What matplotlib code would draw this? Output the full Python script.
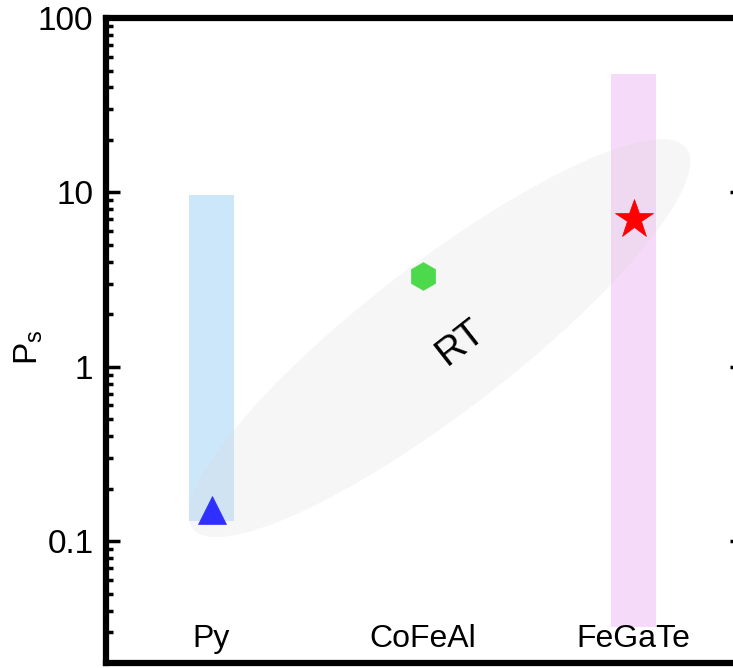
import numpy as np
import matplotlib
matplotlib.use("Agg")
import matplotlib.pyplot as plt
from matplotlib.patches import Ellipse
from matplotlib.transforms import ScaledTranslation

plt.rcParams['font.family'] = ['Liberation Sans', 'DejaVu Sans']
plt.rcParams['mathtext.fontset'] = 'custom'
plt.rcParams['mathtext.rm'] = 'Liberation Sans'

materials = ['Py', 'CoFeAl', 'FeGaTe']
ps_value = [0.15, 3.3, 7.0]
markers = ['^', 'h', '*']
marker_sizes = [19.5, 20, 29.5]
marker_colors = ['#2f2fff', '#4cd94c', '#ff0000']

# ranges shown as shaded bars (material index, low, high)
range_idx = [0, 2]
range_low = [0.13, 0.032]
range_high = [9.6, 48.0]
range_colors = ['#cde7fa', '#f6daf9']

# room-temperature region: centre in data units, size in inches
rt_center = (1.08, 1.46)
rt_size = (6.23, 1.48)
rt_angle = 37.6

fig = plt.figure(figsize=(7.33, 6.68), dpi=100)
ax = fig.add_axes([0.1446, 0.0075, 0.8700, 0.9655])
x = np.arange(len(materials))

ax.set_yscale('log')
ax.set_xlim(-0.5, 2.522)
ax.set_ylim(0.02, 100)

for i, lo, hi, c in zip(range_idx, range_low, range_high, range_colors):
    ax.bar(x[i], hi - lo, bottom=lo, width=0.213, color=c, zorder=1)

ell = Ellipse((0, 0), rt_size[0], rt_size[1], angle=rt_angle,
              facecolor='#d8d8d8', alpha=0.22, edgecolor='none', zorder=2,
              transform=fig.dpi_scale_trans + ScaledTranslation(*rt_center, ax.transData))
ax.add_patch(ell)

for xi, yi, m, ms, c in zip(x, ps_value, markers, marker_sizes, marker_colors):
    ax.plot(xi, yi, marker=m, ms=ms, color=c, mec=c, mew=0.5, linestyle='none', zorder=3)

ax.text(1.18, 1.38, 'RT', fontsize=28, rotation=38, ha='center', va='center', zorder=4)

for xi, name in zip(x, materials):
    ax.text(xi, 0.025, name, transform=ax.get_xaxis_transform(), ha='center',
            va='baseline', fontsize=23)

ax.set_xticks([])
ax.set_yticks([0.1, 1, 10, 100])
ax.set_yticklabels(['0.1', '1', '10', '100'])
ax.tick_params(axis='y', which='major', direction='in', length=10, width=2.5,
               labelsize=24, pad=9, right=True)
ax.tick_params(axis='y', which='minor', direction='in', length=5, width=2.5, right=False)

for sp in ax.spines.values():
    sp.set_linewidth(4.5)
ax.spines['right'].set_visible(False)

ax.set_ylabel(r'$\mathrm{P_s}$', fontsize=24)
ax.yaxis.set_label_coords(-0.095, 0.49)

fig.savefig('out.png', dpi=100)
